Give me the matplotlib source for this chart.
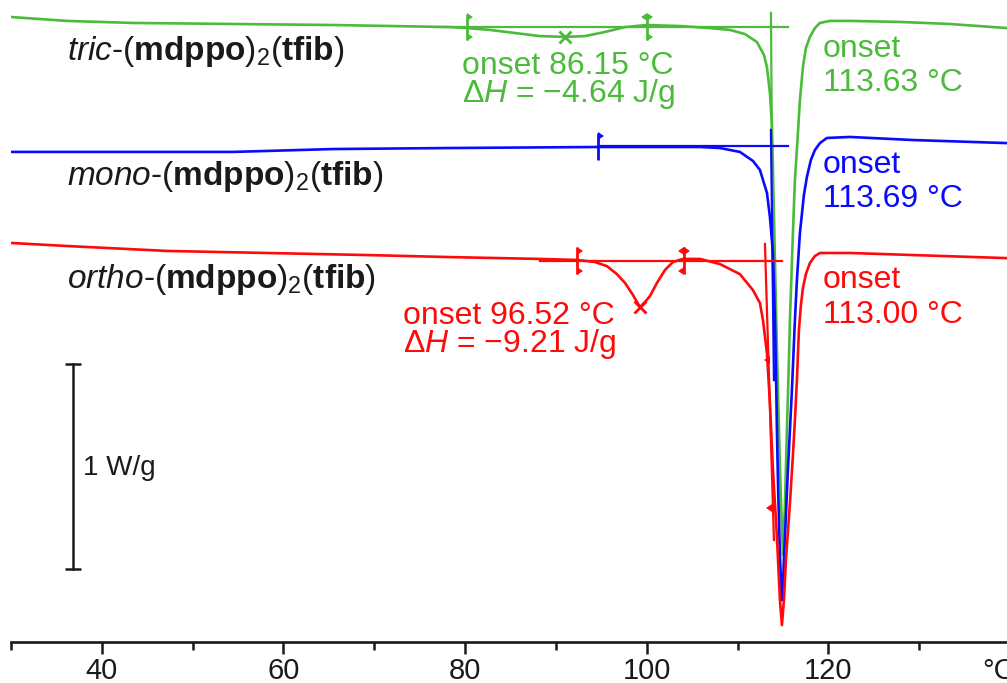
'''DSC traces of the three (mdppo)2(tfib) polymorphs with onset / enthalpy labels'''
import matplotlib
matplotlib.use('Agg')
import matplotlib.pyplot as plt
from matplotlib.ticker import MultipleLocator

plt.rcParams['font.family'] = ['Liberation Sans', 'DejaVu Sans']
plt.rcParams['mathtext.fontset'] = 'custom'
plt.rcParams['mathtext.rm'] = 'Liberation Sans'
plt.rcParams['mathtext.it'] = 'Liberation Sans:italic'
plt.rcParams['mathtext.bf'] = 'Liberation Sans:bold'

# temperature in degC, heat flow in W/g (curves already shifted against each other)
TEMP_TRIC = [30.00, 36.18, 43.44, 54.45, 65.45, 78.34, 80.21, 82.74, 85.49, 88.24, 91.00, 93.20,
	95.40, 97.61, 100.03, 103.66, 106.96, 109.16, 110.81, 112.14, 112.91, 113.24, 113.57, 113.79,
	113.90, 114.12, 114.34, 114.56, 114.78, 115.00, 115.22, 115.44, 115.66, 115.77, 116.10, 116.32,
	116.65, 116.87, 117.20, 117.53, 117.97, 118.52, 119.07, 120.17, 122.37, 127.88, 133.39, 139.67]
HF_TRIC = [-0.083, -0.102, -0.112, -0.117, -0.122, -0.132, -0.137, -0.146, -0.161, -0.176, -0.180, -0.176,
	-0.156, -0.132, -0.122, -0.127, -0.137, -0.146, -0.166, -0.205, -0.268, -0.327, -0.454, -0.610,
	-0.829, -1.268, -1.707, -2.098, -2.439, -2.707, -2.463, -2.098, -1.756, -1.561, -1.137, -0.878,
	-0.649, -0.488, -0.327, -0.234, -0.180, -0.137, -0.112, -0.102, -0.102, -0.107, -0.117, -0.137]

TEMP_MONO = [30.00, 39.81, 54.45, 65.45, 78.34, 94.63, 100.36, 105.86, 108.06, 110.26, 111.70, 112.47,
	113.24, 113.57, 113.90, 114.12, 114.23, 114.34, 114.45, 114.56, 114.67, 114.78, 114.89, 115.00,
	115.11, 115.33, 115.55, 115.77, 115.99, 116.32, 116.54, 116.87, 117.31, 117.64, 118.08, 118.52,
	119.07, 119.84, 122.37, 129.31, 139.67]
HF_MONO = [-0.741, -0.741, -0.741, -0.727, -0.722, -0.717, -0.717, -0.717, -0.722, -0.741, -0.785, -0.829,
	-0.941, -1.059, -1.234, -1.561, -1.805, -2.098, -2.341, -2.537, -2.707, -2.829, -2.927, -2.854,
	-2.732, -2.512, -2.293, -2.098, -1.902, -1.561, -1.366, -1.137, -0.951, -0.863, -0.780, -0.732,
	-0.698, -0.673, -0.668, -0.683, -0.698]

TEMP_ORTHO = [30.00, 36.18, 47.18, 58.19, 69.20, 78.34, 88.24, 92.32, 94.30, 95.62, 96.72, 97.61,
	98.49, 99.26, 99.81, 100.36, 101.13, 102.01, 102.89, 103.99, 105.86, 108.06, 110.26, 111.70,
	112.47, 112.80, 113.24, 113.57, 113.90, 114.34, 114.67, 114.89, 115.11, 115.33, 115.77, 116.10,
	116.32, 116.54, 116.76, 116.98, 117.20, 117.53, 117.97, 118.52, 119.07, 122.37, 129.31, 139.67]
HF_ORTHO = [-1.185, -1.200, -1.224, -1.234, -1.244, -1.254, -1.263, -1.268, -1.278, -1.298, -1.337, -1.380,
	-1.439, -1.498, -1.473, -1.444, -1.380, -1.317, -1.278, -1.263, -1.263, -1.288, -1.337, -1.415,
	-1.478, -1.561, -1.722, -1.966, -2.293, -2.620, -2.927, -3.049, -2.927, -2.732, -2.454, -2.220,
	-2.049, -1.854, -1.610, -1.488, -1.405, -1.337, -1.283, -1.249, -1.234, -1.234, -1.244, -1.259]

# onset construction: baselines, tangents, integration limits, peak maxima
BASE_T = [[77.24, 115.55], [94.63, 115.55], [88.24, 114.89]]
BASE_HF = [-0.132, -0.714, -1.271]
TANGENT_T = [[113.68, 113.90], [113.68, 114.01], [113.02, 114.01]]
TANGENT_HF = [[-0.063, -1.366], [-0.634, -1.854], [-1.190, -2.634]]
LIMIT_T = [[80.21, 100.03], [94.63], [92.32, 104.10]]
LIMIT_HF = [-0.132, -0.714, -1.271]
LIMIT_FLAGS = [[('r', 'r'), ('rl', 'r')], [('r', '')], [('r', 'r'), ('rl', 'l')]]
PEAK_T = [91.00, 99.26]
PEAK_HF = [-0.180, -1.498]
TANGENT_MARK_T = [113.60, 113.80]
TANGENT_MARK_HF = [-1.756, -2.478]

NAMES = [r'$\mathit{tric}$-($\mathbf{mdppo}$)$_2$($\mathbf{tfib}$)',
	r'$\mathit{mono}$-($\mathbf{mdppo}$)$_2$($\mathbf{tfib}$)',
	r'$\mathit{ortho}$-($\mathbf{mdppo}$)$_2$($\mathbf{tfib}$)']
NAME_HF = [-0.293, -0.902, -1.405]
ONSETS = ['113.63 °C', '113.69 °C', '113.00 °C']
ONSET_HF = [(-0.278, -0.444), (-0.844, -1.010), (-1.405, -1.576)]
SMALL_LABELS = ['onset 86.15 °C\n' + r'Δ$\mathit{H}$ = −4.64 J/g',
	'onset 96.52 °C\n' + r'Δ$\mathit{H}$ = −9.21 J/g']
SMALL_T = [79.66, 73.16]
SMALL_HF = [-0.498, -1.717]

COLORS = ['#4cbb3c', '#0a0aff', '#ff0a0a']
X_LIMITS = (30, 139.67)
Y_LIMITS = (-3.130, 0)
SCALE_T = 36.84
SCALE_HF = (-1.776, -2.776)


def draw_limit(ax, t, y, color, flags):
	h = 0.065
	ax.plot([t, t], [y - h, y + h], color=color, lw=2.0, solid_capstyle='butt')
	for side, yf in zip(flags, (y + h * 0.75, y - h * 0.75)):
		for d in side:
			ax.plot(t, yf, marker=9 if d == 'r' else 8, color=color, ms=5.5, mew=0)


def make_picture():
	fig = plt.figure(figsize=(10.07, 6.83), dpi=100)
	ax = fig.add_axes([10.9 / 1007, 41.3 / 683, 1 - 10.9 / 1007, 641.7 / 683])

	curves = [(TEMP_TRIC, HF_TRIC), (TEMP_MONO, HF_MONO), (TEMP_ORTHO, HF_ORTHO)]
	for i, (t, hf) in enumerate(curves):
		c = COLORS[i]
		ax.plot(BASE_T[i], [BASE_HF[i]] * 2, color=c, lw=1.6)
		ax.plot(TANGENT_T[i], TANGENT_HF[i], color=c, lw=1.6)
		ax.plot(t, hf, color=c, lw=1.9, solid_joinstyle='round')
		for t_lim, fl in zip(LIMIT_T[i], LIMIT_FLAGS[i]):
			draw_limit(ax, t_lim, LIMIT_HF[i], c, fl)
		ax.text(SCALE_T - 0.66, NAME_HF[i], NAMES[i], fontsize=24, color='#1a1a1a', va='baseline')
		ax.text(119.41, ONSET_HF[i][0], 'onset', fontsize=23, color=c, va='baseline')
		ax.text(119.41, ONSET_HF[i][1], ONSETS[i], fontsize=23, color=c, va='baseline')

	# small transitions of tric (green) and ortho (red)
	for j, c in enumerate([COLORS[0], COLORS[2]]):
		ax.plot(PEAK_T[j], PEAK_HF[j], marker='x', color=c, ms=9, mew=2)
		ax.text(SMALL_T[j], SMALL_HF[j], SMALL_LABELS[j], fontsize=23, color=c, va='baseline',
			linespacing=0.85)
	ax.plot(TANGENT_MARK_T, TANGENT_MARK_HF, ls='none', marker=8, color=COLORS[2], ms=5.5, mew=0)

	# 1 W/g scale bar
	ax.plot([SCALE_T, SCALE_T], SCALE_HF, color='#1a1a1a', lw=1.8, marker='_', ms=12, mew=1.8)
	ax.text(SCALE_T + 1.1, -2.317, '1 W/g', fontsize=20, color='#1a1a1a', va='baseline')

	ax.set_xlim(*X_LIMITS)
	ax.set_ylim(*Y_LIMITS)
	for s in ['left', 'top', 'right']:
		ax.spines[s].set_visible(False)
	ax.spines['bottom'].set_linewidth(1.9)
	ax.spines['bottom'].set_color('#1a1a1a')
	ax.yaxis.set_visible(False)
	ax.xaxis.set_major_locator(MultipleLocator(20))
	ax.xaxis.set_minor_locator(MultipleLocator(10))
	ax.tick_params(axis='x', which='major', length=8.6, width=1.8, labelsize=21, pad=2.3,
		color='#1a1a1a', labelcolor='#1a1a1a')
	ax.tick_params(axis='x', which='minor', length=5.4, width=1.8, color='#1a1a1a')
	ax.annotate('°C', xy=(136.92, 0), xycoords=('data', 'axes fraction'), xytext=(0, -10.9),
		textcoords='offset points', fontsize=21, color='#1a1a1a', va='top', ha='left',
		annotation_clip=False)

	fig.savefig('out.png', dpi=100)
	plt.close(fig)


def main():
	make_picture()


if __name__ == '__main__':
	main()
